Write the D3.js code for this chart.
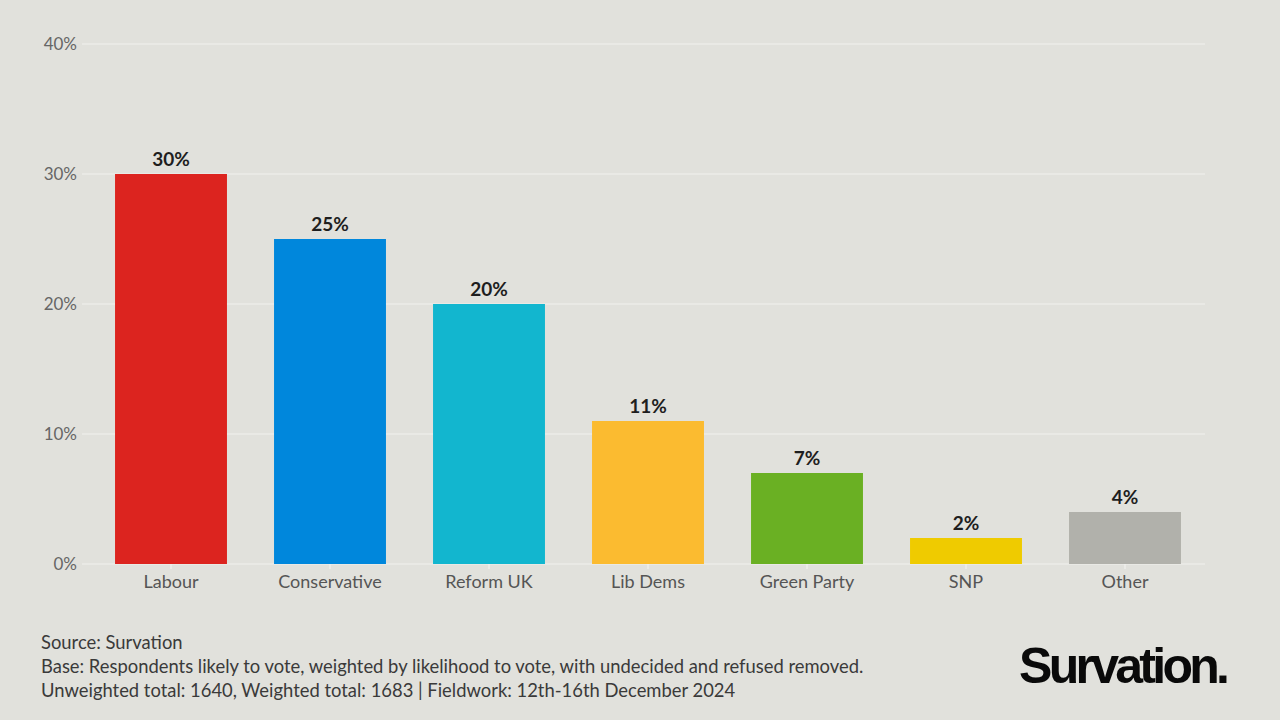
<!DOCTYPE html>
<html>
<head>
<meta charset="utf-8">
<script src="https://cdn.jsdelivr.net/npm/d3@7"></script>
<style>
	body { margin: 0; background: #e1e1dc; }
	svg { display: block; }
</style>
</head>
<body>
<svg width="1280" height="720"></svg>
<script>
var parties = ["Labour", "Conservative", "Reform UK", "Lib Dems", "Green Party", "SNP", "Other"];
var shares = [30, 25, 20, 11, 7, 2, 4];
var colours = ["#dc241f", "#0087dc", "#12b6cf", "#fbbb30", "#6ab023", "#efcb00", "#b1b1ab"];
var yTicks = [0, 10, 20, 30, 40];
var footer = [
	"Source: Survation",
	"Base: Respondents likely to vote, weighted by likelihood to vote, with undecided and refused removed.",
	"Unweighted total: 1640, Weighted total: 1683 | Fieldwork: 12th-16th December 2024"
];

var font = "'Source Sans Pro', Lato, 'Noto Sans', sans-serif";
var svg = d3.select("svg");
svg.append("rect").attr("width", 1280).attr("height", 720).attr("fill", "#e1e1dc");

var x = d3.scaleBand().domain(parties).range([91.5, 1204.5])
	.paddingInner(0.296).paddingOuter(0.148);
var y = d3.scaleLinear().domain([0, 40]).range([564, 44]);

// gridlines
svg.append("g").selectAll("line")
	.data(yTicks)
	.enter().append("line")
		.attr("x1", 82).attr("x2", 1205)
		.attr("y1", function(d) { return y(d); })
		.attr("y2", function(d) { return y(d); })
		.attr("stroke", "#f2f2ee")
		.attr("stroke-width", 1.2);

// y labels
svg.append("g").selectAll("text")
	.data(yTicks)
	.enter().append("text")
		.attr("x", 77)
		.attr("y", function(d) { return y(d); })
		.attr("dy", "0.35em")
		.attr("text-anchor", "end")
		.attr("font-family", font)
		.attr("font-size", 17)
		.attr("fill", "#666")
		.text(function(d) { return d + "%"; });

// bars
svg.append("g").selectAll("rect")
	.data(parties)
	.enter().append("rect")
		.attr("x", function(d) { return x(d); })
		.attr("width", x.bandwidth())
		.attr("y", function(d, i) { return y(shares[i]); })
		.attr("height", function(d, i) { return y(0) - y(shares[i]); })
		.attr("fill", function(d, i) { return colours[i]; });

// value labels
svg.append("g").selectAll("text")
	.data(parties)
	.enter().append("text")
		.attr("x", function(d) { return x(d) + x.bandwidth() / 2; })
		.attr("y", function(d, i) { return y(shares[i]) - 8; })
		.attr("text-anchor", "middle")
		.attr("font-family", font)
		.attr("font-weight", "bold")
		.attr("font-size", 19)
		.attr("fill", "#1e1e1e")
		.text(function(d, i) { return shares[i] + "%"; });

// x axis
var xAxis = svg.append("g")
	.attr("transform", "translate(0," + y(0) + ")")
	.call(d3.axisBottom(x).tickSize(5).tickPadding(6).tickSizeOuter(0));
xAxis.select(".domain").remove();
xAxis.selectAll(".tick line").attr("stroke", "#f2f2ee").attr("stroke-width", 1.2);
xAxis.selectAll(".tick text")
	.attr("font-family", font)
	.attr("font-size", 18)
	.attr("fill", "#555");

// footer
svg.append("g").selectAll("text")
	.data(footer)
	.enter().append("text")
		.attr("x", 41)
		.attr("y", function(d, i) { return 649 + i * 24; })
		.attr("font-family", font)
		.attr("font-size", 18.4)
		.attr("fill", "#3a3a3a")
		.text(function(d) { return d; });

// logo
svg.append("text")
	.attr("x", 1019)
	.attr("y", 683)
	.attr("font-family", "'Liberation Sans', Arial, sans-serif")
	.attr("font-weight", "bold")
	.attr("font-size", 50)
	.attr("textLength", 211)
	.attr("lengthAdjust", "spacing")
	.attr("fill", "#0a0a0a")
	.text("Survation.");
</script>
</body>
</html>
